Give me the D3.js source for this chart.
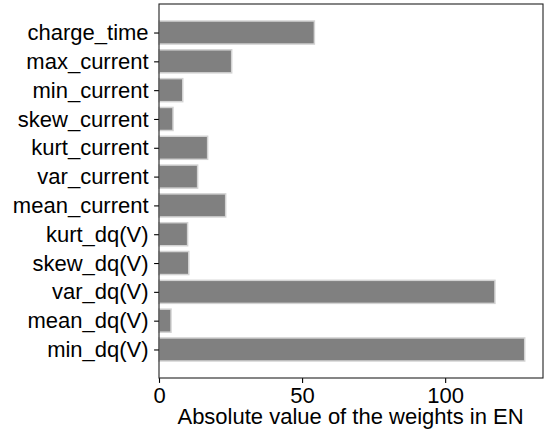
<!DOCTYPE html>
<html><head><meta charset="utf-8">
<script src="https://cdn.jsdelivr.net/npm/d3@7"></script>
<style>body{margin:0;background:#fff}svg{display:block}</style>
</head><body>
<script>
const categories = ["min_dq(V)","mean_dq(V)","var_dq(V)","skew_dq(V)","kurt_dq(V)","mean_current","var_current","kurt_current","skew_current","min_current","max_current","charge_time"];
const values = [127.8, 4.2, 117.4, 10.4, 10.0, 23.3, 13.5, 17.0, 4.9, 8.3, 25.4, 54.3];
const xTicks = [0, 50, 100];
const xLabel = "Absolute value of the weights in EN";

const W = 549, H = 436;
const m = {left:159, top:4, right:549-543, bottom:436-378};
const svg = d3.select("body").append("svg").attr("width", W).attr("height", H);
const iw = W - m.left - m.right, ih = H - m.top - m.bottom;
const g = svg.append("g").attr("transform", `translate(${m.left},${m.top})`);

const xmax = d3.max(values) * 1.05;
const x = d3.scaleLinear().domain([0, xmax]).range([0, iw]);
const n = categories.length;
const y = d3.scaleLinear().domain([-0.4 - 0.59, n - 1 + 0.4 + 0.59]).range([ih, 0]);

g.selectAll("rect.bar").data(values).enter().append("rect")
  .attr("class","bar")
  .attr("x", x(0))
  .attr("y", (d,i) => y(i + 0.4))
  .attr("width", d => x(d) - x(0))
  .attr("height", (d,i) => y(i - 0.4) - y(i + 0.4))
  .attr("fill", "#808080")
  .attr("stroke", "#d3d3d3")
  .attr("stroke-width", 1.5);

const font = "'Liberation Sans', Arial, sans-serif";
const xAxis = g.append("g").attr("transform", `translate(0,${ih})`)
  .call(d3.axisBottom(x).tickValues(xTicks).tickFormat(d3.format("d")).tickSize(4.9).tickPadding(4));
const yAxis = g.append("g")
  .call(d3.axisLeft(y).tickValues(d3.range(n)).tickFormat(i => categories[i]).tickSize(4.9).tickPadding(5.5));
[xAxis, yAxis].forEach(a => {
  a.select(".domain").remove();
  a.selectAll("line").attr("stroke", "#000").attr("stroke-width", 1.1);
  a.selectAll("text").attr("fill", "#000").style("font-family", font).style("font-size", "22px");
});

g.append("rect").attr("x", 0).attr("y", 0).attr("width", iw).attr("height", ih)
  .attr("fill", "none").attr("stroke", "#222").attr("stroke-width", 1.1);

svg.append("text").attr("x", m.left + iw/2 - 0.5).attr("y", 424)
  .attr("text-anchor", "middle").style("font-family", font).style("font-size", "22px")
  .text(xLabel);
</script>
</body></html>
